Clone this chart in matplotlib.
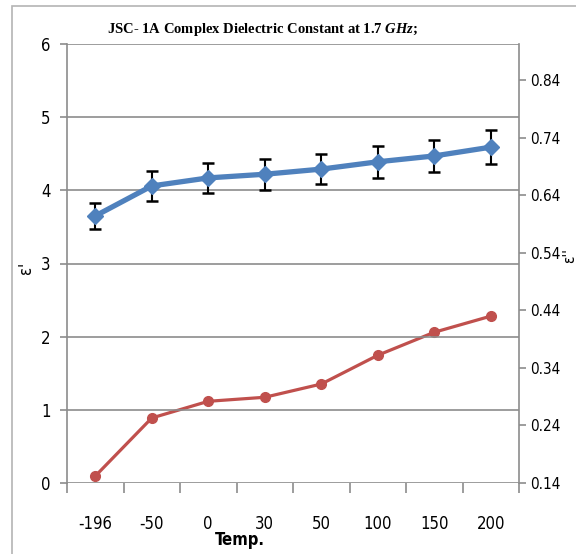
import numpy as np
import matplotlib.pyplot as plt
from matplotlib.patches import Rectangle

# data
temps = ["-196", "-50", "0", "30", "50", "100", "150", "200"]
eps_real = [3.65, 4.06, 4.17, 4.22, 4.29, 4.39, 4.47, 4.59]
eps_real_err = [0.18, 0.20, 0.21, 0.21, 0.21, 0.22, 0.22, 0.23]
eps_imag = [0.152, 0.253, 0.282, 0.289, 0.312, 0.362, 0.402, 0.430]
right_ticks = [0.14, 0.24, 0.34, 0.44, 0.54, 0.64, 0.74, 0.84]

BLUE = "#4F81BD"
RED = "#C0504D"
GRID = "#8C8C8C"
NARROW = "DejaVu Sans"

plt.rcParams["mathtext.fontset"] = "custom"
plt.rcParams["mathtext.rm"] = "Liberation Serif:bold"
plt.rcParams["mathtext.it"] = "Liberation Serif:italic:bold"

W, H = 576, 554
fig = plt.figure(figsize=(W / 100, H / 100), dpi=100)

# outer frame (only top and left edges visible in the reference)
fig.patches.append(Rectangle((12 / W, -0.1), 1.2, 1 - 6 / H + 0.1, transform=fig.transFigure,
                             fill=False, edgecolor="#B4B4B4", linewidth=1.2))

ax = fig.add_axes([67 / W, 1 - 483 / H, (519 - 67) / W, (483 - 44) / H])
ax2 = ax.twinx()

x = np.arange(len(temps))

# left axis: eps'
ax.set_xlim(-0.5, len(temps) - 0.5)
ax.set_ylim(0, 6)
ax.set_yticks(range(0, 7))
ax.yaxis.grid(True, color=GRID, linewidth=1.2)
ax.set_axisbelow(True)
for s in ["top", "bottom", "right"]:
    ax.spines[s].set_visible(False)
ax.spines["left"].set_color(GRID)
ax.spines["left"].set_linewidth(1.2)
ax.tick_params(axis="y", length=5, width=1.2, color=GRID, pad=7, labelsize=12)
ax.set_xticks(x)
ax.set_xticklabels(temps)
ax.set_xticks(np.arange(-0.5, len(temps)), minor=True)
ax.tick_params(axis="x", which="major", length=0, pad=23, labelsize=12)
ax.tick_params(axis="x", which="minor", length=7, width=1.2, color=GRID)
for lbl in ax.get_xticklabels() + ax.get_yticklabels():
    lbl.set_family(NARROW)
    lbl.set_stretch("condensed")

# right axis: eps''
ax2.set_ylim(0.14, 0.903)
ax2.set_yticks(right_ticks)
ax2.set_yticklabels([f"{v:.2f}" for v in right_ticks])
for s in ["top", "bottom", "left"]:
    ax2.spines[s].set_visible(False)
ax2.spines["right"].set_color(GRID)
ax2.spines["right"].set_linewidth(1.2)
ax2.tick_params(axis="y", length=5, width=1.2, color=GRID, pad=3, labelsize=11)
for lbl in ax2.get_yticklabels():
    lbl.set_family(NARROW)
    lbl.set_stretch("condensed")

ax2.plot(x, eps_imag, color=RED, linewidth=2.3, marker="o", markersize=7, clip_on=False, zorder=3)
ax.errorbar(x, eps_real, yerr=eps_real_err, color=BLUE, linewidth=3.8, marker="D", markersize=8,
            ecolor="black", elinewidth=1.5, capsize=4, capthick=1.8, zorder=3)
ax.set_zorder(ax2.get_zorder() + 1)
ax.patch.set_visible(False)

fig.text(263 / W, 1 - 30 / H, "JSC- 1A Complex Dielectric Constant at $\\mathit{1.7\\ GHz;}$",
         ha="center", va="center", family="Liberation Serif", fontweight="bold", fontsize=10.5)
fig.text(26 / W, 1 - 268 / H, "ε'", rotation=90, ha="center", va="center", family=NARROW,
         stretch="condensed", fontsize=12)
fig.text(562 / W, 1 - 256 / H, "ε''", rotation=90, ha="left", va="center", family=NARROW,
         stretch="condensed", fontsize=11)
fig.text(240 / W, 1 - 540 / H, "Temp.", ha="center", va="center", family=NARROW,
         stretch="condensed", fontweight="bold", fontsize=12)

fig.savefig("out.png", dpi=100)
